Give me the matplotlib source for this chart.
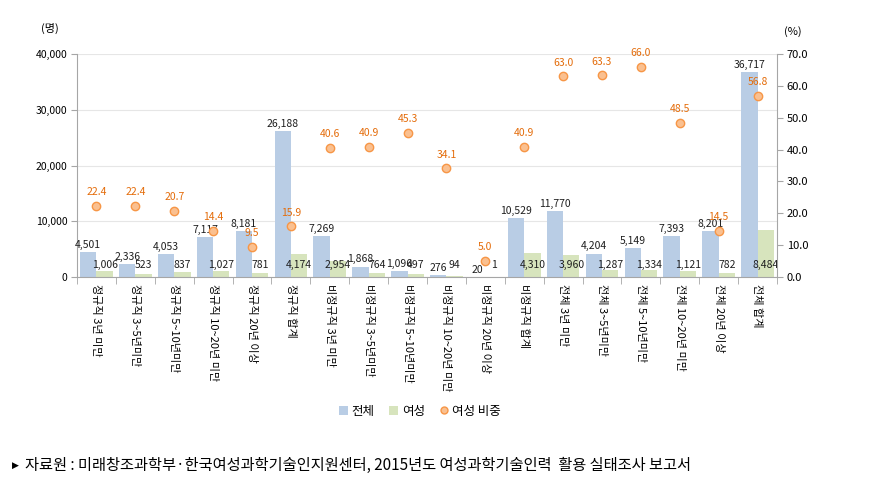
"""Bar + scatter chart: researchers by employment type and tenure."""

import matplotlib

matplotlib.use("Agg")
import matplotlib.pyplot as plt
import numpy as np
from matplotlib.lines import Line2D
from matplotlib.patches import Patch
from matplotlib.ticker import FixedLocator, FuncFormatter

plt.rcParams["font.family"] = ["Noto Sans CJK KR", "DejaVu Sans"]

categories = [
    "정규직 3년 미만", "정규직 3~5년미만", "정규직 5~10년미만", "정규직 10~20년 미만",
    "정규직 20년 이상", "정규직 합계", "비정규직 3년 미만", "비정규직 3~5년미만",
    "비정규직 5~10년미만", "비정규직 10~20년 미만", "비정규직 20년 이상", "비정규직 합계",
    "전체 3년 미만", "전체 3~5년미만", "전체 5~10년미만", "전체 10~20년 미만",
    "전체 20년 이상", "전체 합계",
]
total = [4501, 2336, 4053, 7117, 8181, 26188, 7269, 1868, 1096, 276, 20, 10529,
         11770, 4204, 5149, 7393, 8201, 36717]
female = [1006, 523, 837, 1027, 781, 4174, 2954, 764, 497, 94, 1, 4310,
          3960, 1287, 1334, 1121, 782, 8484]
ratio = [22.4, 22.4, 20.7, 14.4, 9.5, 15.9, 40.6, 40.9, 45.3, 34.1, 5.0, 40.9,
         63.0, 63.3, 66.0, 48.5, 14.5, 56.8]

BLUE = "#B9CDE5"
GREEN = "#D7E4BD"
ORANGE_FILL = "#FAC090"
ORANGE_EDGE = "#F79646"
ORANGE_TEXT = "#E46C0A"
AXIS = "#A6A6A6"

fig = plt.figure(figsize=(8.69, 4.78), dpi=100)
ax = fig.add_axes([0.0886, 0.4205, 0.8055, 0.4665])
ax2 = ax.twinx()

x = np.arange(len(categories))
w = 0.42
ax.bar(x - w / 2, total, width=w, color=BLUE, zorder=2)
ax.bar(x + w / 2, female, width=w, color=GREEN, zorder=2)

for xi, v in zip(x, total):
    ax.text(xi - w / 2, v + 1300, f"{v:,}", ha="center", va="center",
            fontsize=7.5, color="#1F1F1F", zorder=4)
for xi, v in zip(x, female):
    ax.text(xi + w / 2, 2100, f"{v:,}", ha="center", va="center",
            fontsize=7.5, color="#1F1F1F", zorder=4)

ax.set_xlim(-0.5, len(categories) - 0.5)
ax.set_ylim(0, 40000)
ax.set_yticks(np.arange(0, 40001, 10000))
ax.yaxis.set_major_formatter(FuncFormatter(lambda v, p: f"{int(v):,}"))
ax.grid(axis="y", color="#E6E6E6", linewidth=0.8, zorder=0)
ax.set_axisbelow(True)

ax.set_xticks(x)
ax.set_xticklabels(categories, rotation=270, fontsize=8, va="top", ha="center")
ax.tick_params(axis="x", length=0, pad=5)
ax.xaxis.set_minor_locator(FixedLocator(np.arange(-0.5, len(categories), 1)))
ax.tick_params(axis="x", which="minor", length=5, color=AXIS)
ax.tick_params(axis="y", length=4, color=AXIS, labelsize=7.5, pad=3)

ax2.plot(x, ratio, linestyle="none", marker="o", markersize=6,
         markerfacecolor=ORANGE_FILL, markeredgecolor=ORANGE_EDGE,
         markeredgewidth=1, zorder=5)
for xi, r in zip(x, ratio):
    ax2.text(xi, r + 4.3, f"{r:.1f}", ha="center", va="center",
             fontsize=7.5, color=ORANGE_TEXT, zorder=6)
ax2.set_ylim(0, 70)
ax2.set_yticks(np.arange(0, 71, 10))
ax2.yaxis.set_major_formatter(FuncFormatter(lambda v, p: f"{v:.1f}"))
ax2.tick_params(axis="y", length=4, color=AXIS, labelsize=8, pad=3)

for a in (ax, ax2):
    a.spines["top"].set_visible(False)
    for s in ("left", "right", "bottom"):
        a.spines[s].set_color(AXIS)
        a.spines[s].set_linewidth(0.8)
ax.spines["right"].set_visible(False)
ax2.spines["left"].set_visible(False)
ax2.spines["bottom"].set_visible(False)

fig.text(50 / 869, 1 - 28 / 478, "(명)", ha="center", va="center", fontsize=8)
fig.text(793 / 869, 1 - 32 / 478, "(%)", ha="center", va="center", fontsize=8)

handles = [
    Patch(facecolor=BLUE, edgecolor="none", label="전체"),
    Patch(facecolor=GREEN, edgecolor="none", label="여성"),
    Line2D([], [], linestyle="none", marker="o", markersize=5,
           markerfacecolor=ORANGE_FILL, markeredgecolor=ORANGE_EDGE, label="여성 비중"),
]
fig.legend(handles=handles, loc="center", bbox_to_anchor=(420 / 869, 1 - 411 / 478),
           ncol=3, frameon=False, fontsize=9, handlelength=0.7, handleheight=0.7,
           handletextpad=0.3, columnspacing=1.2)

fig.text(12 / 869, 1 - 465 / 478, "▶", ha="left", va="center", fontsize=6.5,
         family=["DejaVu Sans"])
fig.text(25 / 869, 1 - 465 / 478,
         "자료원 : 미래창조과학부·한국여성과학기술인지원센터, 2015년도 여성과학기술인력  활용 실태조사 보고서",
         ha="left", va="center", fontsize=11)

fig.savefig("out.png", dpi=100)
